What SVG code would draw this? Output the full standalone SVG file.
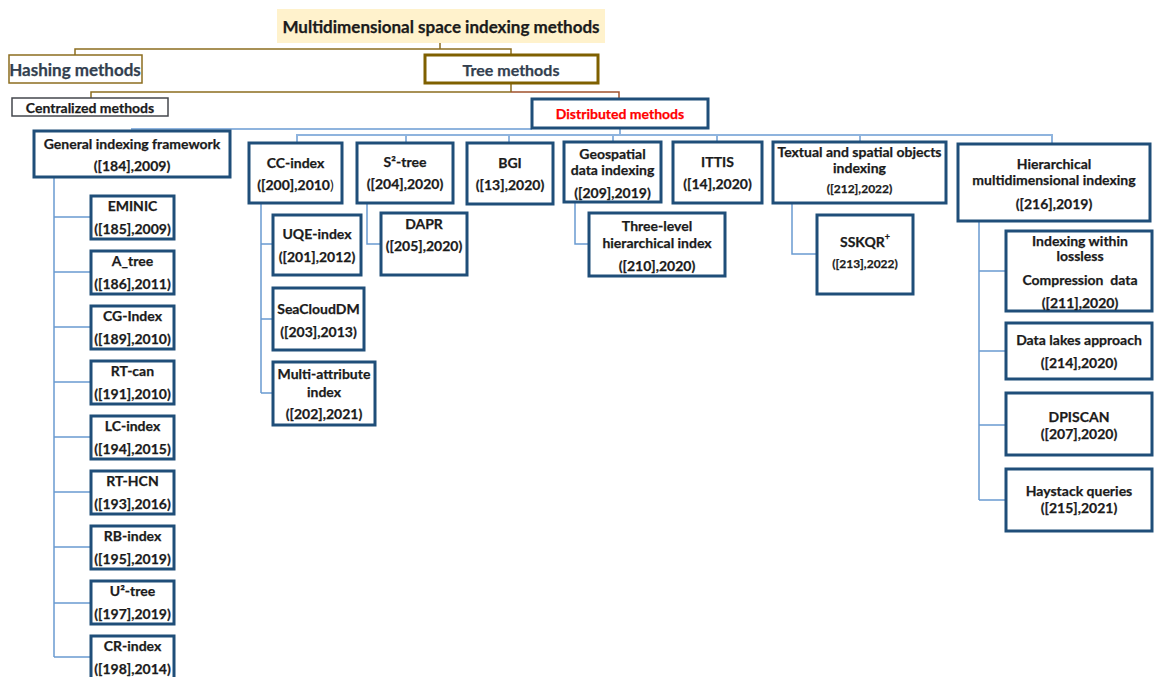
<svg xmlns="http://www.w3.org/2000/svg" width="1154" height="677" viewBox="0 0 1154 677">
  <style>
    text { font-family: Lato, "Liberation Sans", sans-serif; font-weight: bold; fill: #1b1b1b; stroke: #1b1b1b; stroke-width: 0.25; text-anchor: middle; dominant-baseline: central; }
    .box { fill: #ffffff; stroke: #1f4e79; stroke-width: 3; }
    .t { font-size: 14px; }
    .s { font-size: 12px; }
    .head { fill: #333f4f; stroke: #333f4f; }
    .brown { fill: none; stroke: #8c6d1f; stroke-width: 1.5; }
    .rust { fill: none; stroke: #a0522d; stroke-width: 1.5; }
    .blue { fill: none; stroke: #6a9bd1; stroke-width: 1.5; }
    .pale { fill: none; stroke: #8fb4de; stroke-width: 2; }
  </style>

  <!-- connectors -->
  <g id="connectors">
    <path class="brown" d="M440,43 V49 M75,55 V49 H511 V55"/>
    <path class="brown" d="M511,83 V92 M91,99 V92 H511"/>
    <path class="rust" d="M511,92 H619 V98"/>
    <path class="pale" d="M132,131 V129 H532"/>
    <path class="pale" d="M620,128 V135 M297,143 V135 H1052 V144 M406,135 V143 M509,135 V143 M613,135 V142 M717,135 V142 M860,135 V142"/>
    <path class="blue" d="M54,177 V657 M54,217 H91 M54,272 H91 M54,327 H91 M54,382 H91 M54,437 H91 M54,492 H91 M54,547 H91 M54,603 H91 M54,657 H91"/>
    <path class="blue" d="M261,203 V393 M261,244 H273 M261,319 H273 M261,393 H273"/>
    <path class="blue" d="M367,203 V244 H381"/>
    <path class="blue" d="M575,202 V244 H589"/>
    <path class="blue" d="M792,203 V254 H817"/>
    <path class="blue" d="M979,221 V500 M979,271 H1006 M979,351 H1006 M979,425 H1006 M979,500 H1006"/>
  </g>

  <!-- top levels -->
  <g id="root">
    <rect x="277" y="9" width="328" height="34" fill="#fff2cc"/>
    <text x="441" y="26" style="font-size:17px">Multidimensional space indexing methods</text>
  </g>
  <g id="hashing">
    <rect x="9" y="55" width="133" height="28" fill="#fff" stroke="#8c6d1f" stroke-width="1.5"/>
    <text class="head" x="75" y="69" style="font-size:17px">Hashing methods</text>
  </g>
  <g id="tree">
    <rect x="425" y="55" width="173" height="28" fill="#fff" stroke="#7f6000" stroke-width="3"/>
    <text class="head" x="511" y="69" style="font-size:16px">Tree methods</text>
  </g>
  <g id="centralized">
    <rect x="12" y="98" width="156" height="18" fill="#fff" stroke="#44474d" stroke-width="1.5"/>
    <text x="90" y="107" style="font-size:14px">Centralized methods</text>
  </g>
  <g id="distributed">
    <rect class="box" x="532" y="99" width="176" height="29"/>
    <text x="620" y="113" style="font-size:14px;fill:#ff0000;stroke:#ff0000">Distributed methods</text>
  </g>

  <!-- centralized branch -->
  <g id="general-framework">
    <rect class="box" x="34" y="131" width="196" height="46"/>
    <text class="t" x="132" y="143">General indexing framework</text>
    <text class="t" x="132" y="165">([184],2009)</text>
  </g>
  <g id="eminic">
    <rect class="box" x="91" y="196" width="83" height="43"/>
    <text class="t" x="132.5" y="205">EMINIC</text>
    <text class="t" x="132.5" y="228">([185],2009)</text>
  </g>
  <g id="a-tree">
    <rect class="box" x="91" y="251" width="83" height="43"/>
    <text class="t" x="132.5" y="260">A_tree</text>
    <text class="t" x="132.5" y="283">([186],2011)</text>
  </g>
  <g id="cg-index">
    <rect class="box" x="91" y="306" width="83" height="43"/>
    <text class="t" x="132.5" y="315">CG-Index</text>
    <text class="t" x="132.5" y="338">([189],2010)</text>
  </g>
  <g id="rt-can">
    <rect class="box" x="91" y="361" width="83" height="43"/>
    <text class="t" x="132.5" y="370">RT-can</text>
    <text class="t" x="132.5" y="393">([191],2010)</text>
  </g>
  <g id="lc-index">
    <rect class="box" x="91" y="416" width="83" height="43"/>
    <text class="t" x="132.5" y="425">LC-index</text>
    <text class="t" x="132.5" y="448">([194],2015)</text>
  </g>
  <g id="rt-hcn">
    <rect class="box" x="91" y="471" width="83" height="43"/>
    <text class="t" x="132.5" y="480">RT-HCN</text>
    <text class="t" x="132.5" y="503">([193],2016)</text>
  </g>
  <g id="rb-index">
    <rect class="box" x="91" y="526" width="83" height="43"/>
    <text class="t" x="132.5" y="535">RB-index</text>
    <text class="t" x="132.5" y="558">([195],2019)</text>
  </g>
  <g id="u2-tree">
    <rect class="box" x="91" y="581" width="83" height="43"/>
    <text class="t" x="132.5" y="590">U²-tree</text>
    <text class="t" x="132.5" y="613">([197],2019)</text>
  </g>
  <g id="cr-index">
    <rect class="box" x="91" y="636" width="83" height="43"/>
    <text class="t" x="132.5" y="645">CR-index</text>
    <text class="t" x="132.5" y="668">([198],2014)</text>
  </g>

  <!-- distributed branch -->
  <g id="cc-index">
    <rect class="box" x="249" y="143" width="93" height="60"/>
    <text class="t" x="295.5" y="162">CC-index</text>
    <text class="t" x="295.5" y="184">([200],2010<tspan font-weight="normal" stroke-width="0">)</tspan></text>
  </g>
  <g id="uqe-index">
    <rect class="box" x="273" y="215" width="88" height="60"/>
    <text class="t" x="317" y="233">UQE-index</text>
    <text class="t" x="317" y="256">([201],2012)</text>
  </g>
  <g id="seaclouddm">
    <rect class="box" x="273" y="288" width="91" height="62"/>
    <text class="t" x="318.5" y="308">SeaCloudDM</text>
    <text class="t" x="318.5" y="331">([203],2013)</text>
  </g>
  <g id="multi-attribute">
    <rect class="box" x="273" y="362" width="102" height="63"/>
    <text class="t" x="324" y="373">Multi-attribute</text>
    <text class="t" x="324" y="391">index</text>
    <text class="t" x="324" y="413">([202],2021)</text>
  </g>
  <g id="s2-tree">
    <rect class="box" x="357" y="143" width="96" height="60"/>
    <text class="t" x="405" y="161">S²-tree</text>
    <text class="t" x="405" y="183">([204],2020)</text>
  </g>
  <g id="dapr">
    <rect class="box" x="381" y="213" width="86" height="62"/>
    <text class="t" x="424" y="223">DAPR</text>
    <text class="t" x="424" y="245">([205],2020)</text>
  </g>
  <g id="bgi">
    <rect class="box" x="467" y="143" width="86" height="61"/>
    <text class="t" x="510" y="162">BGI</text>
    <text class="t" x="510" y="184">([13],2020)</text>
  </g>
  <g id="geospatial">
    <rect class="box" x="564" y="142" width="97" height="60"/>
    <text class="t" x="612.5" y="153">Geospatial</text>
    <text class="t" x="612.5" y="169">data indexing</text>
    <text class="t" x="612.5" y="192">([209],2019)</text>
  </g>
  <g id="three-level">
    <rect class="box" x="589" y="213" width="136" height="63"/>
    <text class="t" x="657" y="225">Three-level</text>
    <text class="t" x="657" y="242">hierarchical index</text>
    <text class="t" x="657" y="265">([210],2020)</text>
  </g>
  <g id="ittis">
    <rect class="box" x="673" y="142" width="89" height="61"/>
    <text class="t" x="717.5" y="161">ITTIS</text>
    <text class="t" x="717.5" y="183">([14],2020)</text>
  </g>
  <g id="textual-spatial">
    <rect class="box" x="773" y="142" width="173" height="61"/>
    <text class="t" x="859.5" y="151">Textual and spatial objects</text>
    <text class="t" x="859.5" y="167">indexing</text>
    <text class="s" x="859.5" y="188">([212],2022)</text>
  </g>
  <g id="sskqr">
    <rect class="box" x="817" y="215" width="96" height="79"/>
    <text class="t" x="865" y="241">SSKQR<tspan font-size="9" dy="-5">+</tspan></text>
    <text class="s" x="865" y="263">([213],2022)</text>
  </g>
  <g id="hierarchical">
    <rect class="box" x="958" y="144" width="192" height="77"/>
    <text class="t" x="1054" y="163">Hierarchical</text>
    <text class="t" x="1054" y="179">multidimensional indexing</text>
    <text class="t" x="1054" y="203">([216],2019)</text>
  </g>
  <g id="lossless-compression">
    <rect class="box" x="1006" y="231" width="146" height="80"/>
    <text class="t" x="1080" y="240">Indexing within</text>
    <text class="t" x="1080" y="255">lossless</text>
    <text class="t" x="1080" y="279">Compression&#160; data</text>
    <text class="t" x="1080" y="302">([211],2020)</text>
  </g>
  <g id="data-lakes">
    <rect class="box" x="1006" y="323" width="146" height="56"/>
    <text class="t" x="1079" y="339">Data lakes approach</text>
    <text class="t" x="1079" y="362">([214],2020)</text>
  </g>
  <g id="dpiscan">
    <rect class="box" x="1006" y="393" width="146" height="62"/>
    <text class="t" x="1079" y="416">DPISCAN</text>
    <text class="t" x="1079" y="433">([207],2020)</text>
  </g>
  <g id="haystack">
    <rect class="box" x="1006" y="469" width="146" height="62"/>
    <text class="t" x="1079" y="490">Haystack queries</text>
    <text class="t" x="1079" y="507">([215],2021)</text>
  </g>
</svg>
